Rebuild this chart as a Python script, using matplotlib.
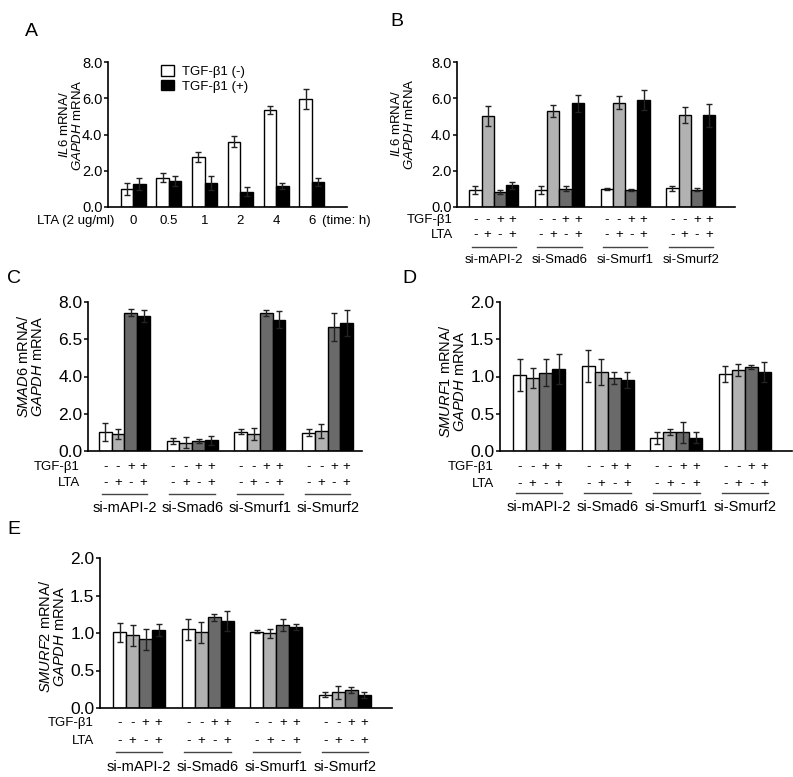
import numpy as np
import matplotlib
matplotlib.use("Agg")
import matplotlib.pyplot as plt
from matplotlib.transforms import blended_transform_factory
from matplotlib.lines import Line2D
from matplotlib.patches import Patch

plt.rcParams['font.family'] = ['Liberation Sans', 'DejaVu Sans']
plt.rcParams['mathtext.fontset'] = 'custom'
plt.rcParams['mathtext.rm'] = 'Liberation Sans'
plt.rcParams['mathtext.it'] = 'Liberation Sans:italic'

# ---- data ----
A_times = ['0', '0.5', '1', '2', '4', '6']
A_neg = [0.98, 1.62, 2.78, 3.61, 5.36, 5.97]
A_neg_err = [0.33, 0.24, 0.28, 0.30, 0.22, 0.54]
A_pos = [1.25, 1.44, 1.33, 0.85, 1.14, 1.38]
A_pos_err = [0.33, 0.27, 0.40, 0.24, 0.17, 0.24]

groups = ['si-mAPI-2', 'si-Smad6', 'si-Smurf1', 'si-Smurf2']
tgf_marks = ['-', '-', '+', '+']
lta_marks = ['-', '+', '-', '+']

B_vals = [[0.92, 5.00, 0.83, 1.19], [0.92, 5.28, 1.01, 5.72],
          [0.99, 5.74, 0.94, 5.92], [1.03, 5.09, 0.96, 5.06]]
B_err = [[0.22, 0.55, 0.09, 0.17], [0.22, 0.33, 0.13, 0.47],
         [0.07, 0.36, 0.06, 0.55], [0.15, 0.44, 0.07, 0.62]]

C_vals = [[1.00, 0.91, 7.43, 7.25], [0.54, 0.45, 0.54, 0.57],
          [1.04, 0.91, 7.43, 7.05], [0.98, 1.07, 6.66, 6.88]]
C_err = [[0.48, 0.25, 0.18, 0.30], [0.18, 0.28, 0.10, 0.26],
         [0.14, 0.30, 0.16, 0.45], [0.20, 0.37, 0.75, 0.68]]

D_vals = [[1.02, 0.98, 1.05, 1.10], [1.14, 1.06, 0.98, 0.95],
          [0.18, 0.26, 0.25, 0.18], [1.03, 1.09, 1.13, 1.06]]
D_err = [[0.21, 0.13, 0.18, 0.20], [0.21, 0.17, 0.08, 0.11],
         [0.08, 0.04, 0.14, 0.07], [0.11, 0.08, 0.03, 0.13]]

E_vals = [[1.01, 0.97, 0.92, 1.04], [1.05, 1.01, 1.21, 1.16],
          [1.02, 1.00, 1.11, 1.08], [0.18, 0.21, 0.24, 0.18]]
E_err = [[0.13, 0.14, 0.14, 0.08], [0.14, 0.14, 0.05, 0.13],
         [0.02, 0.06, 0.08, 0.04], [0.03, 0.09, 0.04, 0.04]]

bar_colors = ['white', '#b2b2b2', '#6a6a6a', 'black']

W, H = 793, 777
fig = plt.figure(figsize=(W / 100, H / 100), dpi=100)
err_kw = dict(ecolor='#222222', elinewidth=1.0, capsize=2.2, capthick=1.0)


def fy(ypix):
    return 1 - ypix / H


def make_ax(left, right, top, bottom):
    ax = fig.add_axes([left / W, 1 - bottom / H, (right - left) / W, (bottom - top) / H])
    for s in ['top', 'right']:
        ax.spines[s].set_visible(False)
    ax.spines['left'].set_linewidth(1.2)
    ax.spines['bottom'].set_linewidth(1.2)
    ax.tick_params(axis='x', bottom=False, labelbottom=False)
    ax.tick_params(axis='y', length=3, width=1.1, pad=1)
    return ax


def ylabel(x, y, gene, size):
    fig.text(x / W, fy(y), r'$\it{%s}$ mRNA/' % gene + '\n' + r'$\it{GAPDH}$ mRNA',
             rotation=90, ha='center', va='center', fontsize=size, linespacing=1.0)


def grouped(ax, vals, errs, pitch, rows, ylim, yticks, yticklabels, tsize, msize, gsize, lbl_x):
    vals = np.array(vals)
    errs = np.array(errs)
    for i in range(4):
        x = np.arange(4) * pitch + i
        ax.bar(x, vals[:, i], width=1.0, color=bar_colors[i], edgecolor='black', linewidth=1.0,
               yerr=errs[:, i], error_kw=err_kw)
    ax.set_ylim(*ylim)
    ax.set_yticks(yticks)
    ax.set_yticklabels(yticklabels, fontsize=tsize)
    tr = blended_transform_factory(ax.transData, fig.transFigure)
    y_tgf, y_lta, y_line, y_grp = rows
    lbl_x_ax = ax.transData.inverted().transform((lbl_x, 0))[0]
    ax.text(lbl_x_ax, fy(y_tgf), 'TGF-β1', transform=tr, ha='right', va='center', fontsize=msize)
    ax.text(lbl_x_ax, fy(y_lta), 'LTA', transform=tr, ha='right', va='center', fontsize=msize)
    for g in range(4):
        for i in range(4):
            x = g * pitch + i
            ax.text(x, fy(y_tgf), tgf_marks[i], transform=tr, ha='center', va='center', fontsize=msize)
            ax.text(x, fy(y_lta), lta_marks[i], transform=tr, ha='center', va='center', fontsize=msize)
        ax.add_line(Line2D([g * pitch - 0.3, g * pitch + 3.3], [fy(y_line), fy(y_line)],
                           transform=tr, color='#444444', linewidth=1.0, clip_on=False))
        ax.text(g * pitch + 1.5, fy(y_grp), groups[g], transform=tr, ha='center', va='center',
                fontsize=gsize)


# ---- panel A ----
axA = make_ax(108, 347, 62, 207)
xa = np.arange(len(A_times)) * 2.85
axA.bar(xa - 0.5, A_neg, width=1.0, color='white', edgecolor='black', linewidth=1.0,
        yerr=A_neg_err, error_kw=err_kw)
axA.bar(xa + 0.5, A_pos, width=1.0, color='black', edgecolor='black', linewidth=1.0,
        yerr=A_pos_err, error_kw=err_kw)
axA.set_xlim(-2, 17.05)
axA.set_ylim(0, 8)
axA.set_yticks([0, 2, 4, 6, 8])
axA.set_yticklabels(['0.0', '2.0', '4.0', '6.0', '8.0'], fontsize=10.5)
trA = blended_transform_factory(axA.transData, fig.transFigure)
for x, t in zip(xa, A_times):
    axA.text(x, fy(221), t, transform=trA, ha='center', va='center', fontsize=9.5)
fig.text(37 / W, fy(221), 'LTA (2 ug/ml)', ha='left', va='center', fontsize=9.5)
fig.text(322 / W, fy(221), '(time: h)', ha='left', va='center', fontsize=9.5)
axA.legend(handles=[Patch(facecolor='white', edgecolor='black', label='TGF-β1 (-)'),
                    Patch(facecolor='black', edgecolor='black', label='TGF-β1 (+)')],
           loc='upper left', bbox_to_anchor=(0.17, 1.06), frameon=False, fontsize=9.5,
           handlelength=1.0, handleheight=0.9, handletextpad=0.6, labelspacing=0.1)
ylabel(71, 125, 'IL6', 9.5)
fig.text(25 / W, fy(32), 'A', fontsize=14, ha='left', va='center')

# ---- panel B ----
axB = make_ax(457, 735, 62, 207)
axB.set_xlim(-1.5, 21.15)
grouped(axB, B_vals, B_err, 5.35, (220, 235, 247, 260), (0, 8), [0, 2, 4, 6, 8],
        ['0.0', '2.0', '4.0', '6.0', '8.0'], 10.5, 9.5, 9.5, 453)
ylabel(403, 124, 'IL6', 9.5)
fig.text(390 / W, fy(22), 'B', fontsize=14, ha='left', va='center')

# ---- panel C ----
axC = make_ax(88, 362, 302, 451)
axC.set_xlim(-1.37, 20.2)
grouped(axC, C_vals, C_err, 5.33, (467, 483, 494, 508), (0, 8), [0, 2, 4, 6, 8],
        ['0.0', '2.0', '4.0', '6.5', '8.0'], 12.5, 9.5, 10.5, 80)
ylabel(31, 366, 'SMAD6', 10.5)
fig.text(7 / W, fy(279), 'C', fontsize=14, ha='left', va='center')

# ---- panel D ----
axD = make_ax(500, 792, 302, 451)
axD.set_xlim(-1.5, 20.96)
grouped(axD, D_vals, D_err, 5.28, (467, 484, 493, 507), (0, 2), [0, 0.5, 1, 1.5, 2],
        ['0.0', '0.5', '1.0', '1.5', '2.0'], 12.5, 9.5, 10.5, 494)
ylabel(453, 381, 'SMURF1', 10.5)
fig.text(402 / W, fy(279), 'D', fontsize=14, ha='left', va='center')

# ---- panel E ----
axE = make_ax(100, 392, 558, 708)
axE.set_xlim(-1.5, 20.96)
grouped(axE, E_vals, E_err, 5.28, (723, 741, 752, 767), (0, 2), [0, 0.5, 1, 1.5, 2],
        ['0.0', '0.5', '1.0', '1.5', '2.0'], 12.5, 9.5, 10.5, 94)
ylabel(52, 636, 'SMURF2', 10.5)
fig.text(7 / W, fy(529), 'E', fontsize=14, ha='left', va='center')

fig.savefig('out.png', dpi=100)
